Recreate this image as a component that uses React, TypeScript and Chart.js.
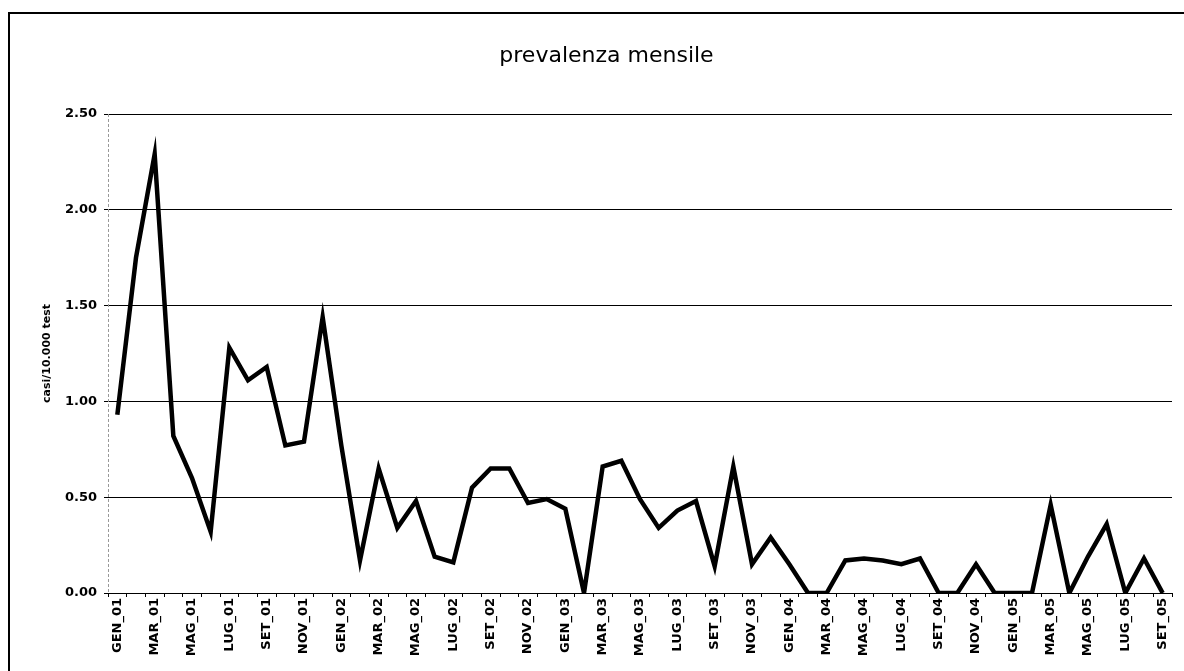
import React, { useEffect, useRef } from "react";
import { Chart, registerables } from "chart.js";

Chart.register(...registerables);

const MONTHS = ["GEN", "FEB", "MAR", "APR", "MAG", "GIU", "LUG", "AGO", "SET", "OTT", "NOV", "DIC"];
const YEARS = ["01", "02", "03", "04", "05"];

const values2001 = [0.93, 1.75, 2.29, 0.82, 0.6, 0.32, 1.28, 1.11, 1.18, 0.77, 0.79, 1.44];
const values2002 = [0.77, 0.17, 0.65, 0.34, 0.48, 0.19, 0.16, 0.55, 0.65, 0.65, 0.47, 0.49];
const values2003 = [0.44, 0.0, 0.66, 0.69, 0.49, 0.34, 0.43, 0.48, 0.14, 0.66, 0.15, 0.29];
const values2004 = [0.15, 0.0, 0.0, 0.17, 0.18, 0.17, 0.15, 0.18, 0.0, 0.0, 0.15, 0.0];
const values2005 = [0.0, 0.0, 0.46, 0.0, 0.19, 0.36, 0.0, 0.18, 0.0];

const yTicks = [0, 0.5, 1, 1.5, 2, 2.5];

const TITLE = "prevalenza mensile";
const Y_TITLE = "casi/10.000 test";

const seriesValues = [...values2001, ...values2002, ...values2003, ...values2004, ...values2005];
const categories: string[] = [];
YEARS.forEach((y) => MONTHS.forEach((m) => categories.push(`${m}_${y}`)));
const labels = categories.slice(0, seriesValues.length);

const dashedAxis = {
  id: "dashedAxis",
  beforeDatasetsDraw(chart: any) {
    const { ctx, chartArea } = chart;
    ctx.save();
    ctx.strokeStyle = "#999";
    ctx.lineWidth = 1;
    ctx.setLineDash([3, 2]);
    ctx.beginPath();
    const x = Math.round(chartArea.left) + 0.5;
    ctx.moveTo(x, chartArea.top);
    ctx.lineTo(x, chartArea.bottom);
    ctx.stroke();
    ctx.restore();
  },
};

export default function App() {
  const canvasRef = useRef<HTMLCanvasElement | null>(null);

  useEffect(() => {
    if (!canvasRef.current) return;
    const font = "'DejaVu Sans', Verdana, sans-serif";
    const chart = new Chart(canvasRef.current, {
      type: "line",
      data: {
        labels,
        datasets: [
          {
            label: TITLE,
            data: seriesValues,
            borderColor: "#000",
            borderWidth: 4.5,
            pointRadius: 0,
            tension: 0,
            borderJoinStyle: "miter",
            fill: false,
          },
        ],
      },
      plugins: [dashedAxis],
      options: {
        animation: false,
        responsive: true,
        maintainAspectRatio: false,
        layout: { padding: { left: 41, right: 12, top: 13, bottom: 0 } },
        plugins: {
          legend: { display: false },
          tooltip: { enabled: false },
          title: {
            display: true,
            text: TITLE,
            color: "#000",
            font: { family: font, size: 22, weight: "normal" },
            padding: { top: 30, bottom: 44.6 },
          },
        },
        scales: {
          x: {
            type: "category",
            offset: true,
            grid: {
              offset: true,
              drawOnChartArea: false,
              drawTicks: true,
              tickLength: 4,
              color: "#000",
            },
            border: { display: true, color: "#000", width: 1 },
            ticks: {
              autoSkip: false,
              minRotation: 90,
              maxRotation: 90,
              padding: 1,
              color: "#000",
              font: { family: font, size: 13, weight: "bold" },
              callback: (_v: any, i: number) => (i % 2 === 0 ? labels[i] : ""),
            },
            afterFit: (s: any) => {
              s.height = 78;
            },
          },
          y: {
            min: 0,
            max: 2.5,
            afterBuildTicks: (s: any) => {
              s.ticks = yTicks.map((v) => ({ value: v }));
            },
            grid: {
              color: "#000",
              lineWidth: 1,
              tickLength: 4,
            },
            border: { display: false },
            ticks: {
              color: "#000",
              padding: 7,
              font: { family: font, size: 13, weight: "bold" },
              callback: (v: any) => Number(v).toFixed(2),
            },
            title: {
              display: true,
              text: Y_TITLE,
              color: "#000",
              padding: 0,
              font: { family: font, size: 11, weight: "bold" },
            },
            afterFit: (s: any) => {
              s.width = 67;
            },
          },
        },
      },
    });
    return () => chart.destroy();
  }, []);

  return (
    <div
      style={{
        position: "fixed",
        left: 0,
        top: 0,
        width: 1184,
        height: 671,
        overflow: "hidden",
        background: "#fff",
      }}
    >
      <div
        style={{
          position: "absolute",
          left: 8,
          top: 12,
          width: 1220,
          height: 720,
          border: "2px solid #000",
          boxSizing: "border-box",
        }}
      />
      <div style={{ position: "absolute", left: 0, top: 0, width: 1184, height: 671 }}>
        <canvas ref={canvasRef} />
      </div>
    </div>
  );
}
